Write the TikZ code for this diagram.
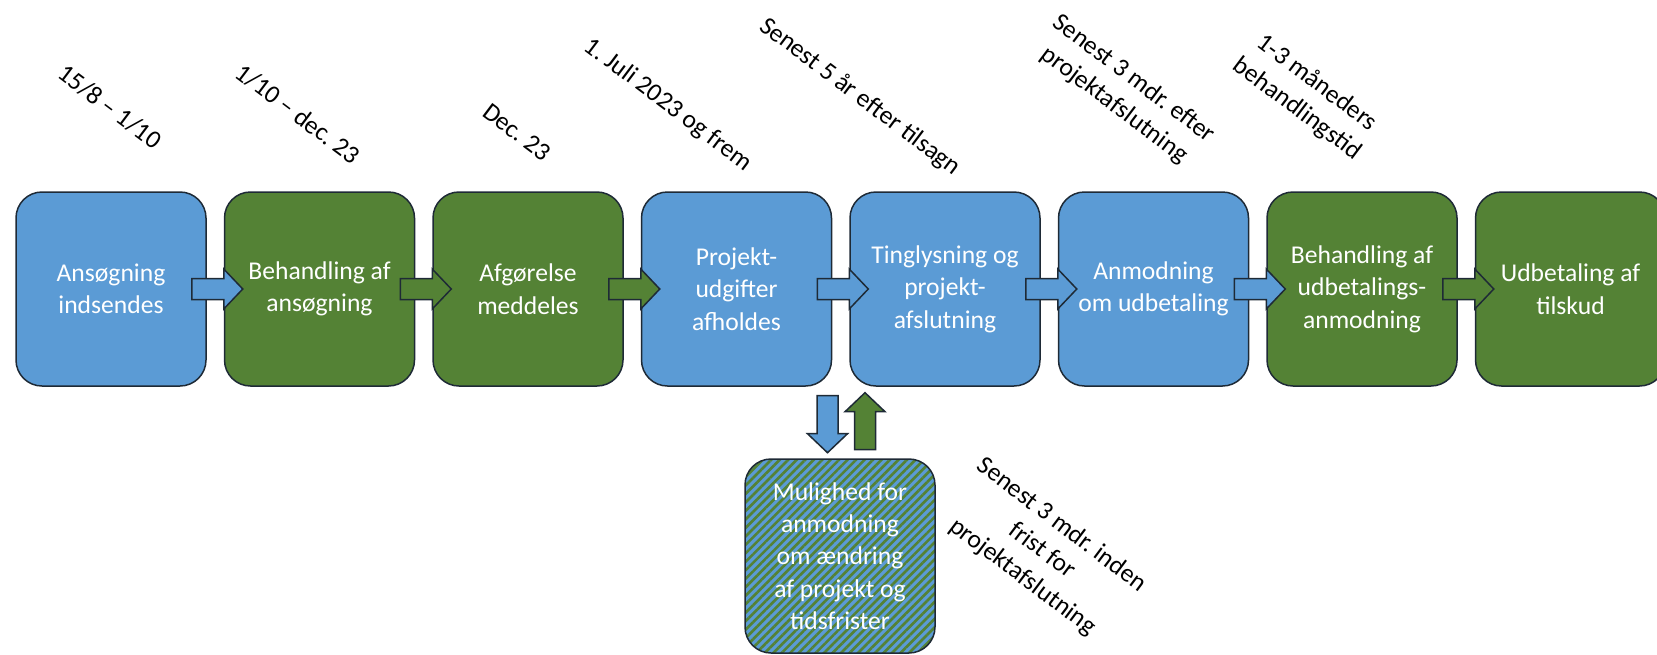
\documentclass[tikz,border=0pt]{standalone}
\usepackage{fontspec}
\setmainfont{Carlito}
\frenchspacing
\usetikzlibrary{calc,patterns.meta}
\definecolor{cblue}{HTML}{5B9BD5}
\definecolor{cgreen}{HTML}{548235}
\definecolor{cline}{HTML}{1E2A36}
\tikzset{
  box/.style={draw=cline, line width=.75pt, rounded corners=13pt, minimum width=95pt, minimum height=97pt, inner sep=0pt, align=center, text=white, font=\fontsize{12.8}{16.2}\selectfont},
  bluebox/.style={box, fill=cblue},
  greenbox/.style={box, fill=cgreen},
  hatchbox/.style={box, preaction={fill=cblue}, pattern={Lines[angle=45,distance=3pt,line width=1.3pt]}, pattern color=cgreen},
  datelabel/.style={rotate=-37, align=center, font=\fontsize{12.8}{16.2}\selectfont},
  bluearrow/.style={draw=cline, line width=.75pt, fill=cblue},
  greenarrow/.style={draw=cline, line width=.75pt, fill=cgreen}
}
% block arrow from #2 to #3, tip at #3
\newcommand{\blockarrow}[3]{%
  \filldraw[#1] ($(#2)!5.25pt!90:(#3)$)
    -- ($($(#3)!9.5pt!(#2)$)!5.25pt!90:(#3)$)
    -- ($($(#3)!9.5pt!(#2)$)!10pt!90:(#3)$)
    -- (#3)
    -- ($($(#3)!9.5pt!(#2)$)!10pt!-90:(#3)$)
    -- ($($(#3)!9.5pt!(#2)$)!5.25pt!-90:(#3)$)
    -- ($(#2)!5.25pt!-90:(#3)$) -- cycle;}
\begin{document}
\begin{tikzpicture}[x=.5pt, y=-.5pt]
\useasboundingbox (0,0) rectangle (1657,654);
\node[bluebox](A) at (111, 289) {Ansøgning\\indsendes};
\node[greenbox](B) at (319.5, 289) {Behandling af\\ansøgning};
\node[greenbox](C) at (528, 289) {Afgørelse\\meddeles};
\node[bluebox](D) at (736.5, 289) {Projekt-\\udgifter\\afholdes};
\node[bluebox](E) at (945, 289) {Tinglysning og\\projekt-\\afslutning};
\node[bluebox](F) at (1153.5, 289) {Anmodning\\om udbetaling};
\node[greenbox](G) at (1362, 289) {Behandling af\\udbetalings-\\anmodning};
\node[greenbox](H) at (1570.5, 289) {Udbetaling af\\tilskud};
\node[hatchbox](M) at (840, 556) {Mulighed for\\anmodning\\om ændring\\af projekt og\\tidsfrister};
\blockarrow{bluearrow}{[xshift=-7.5pt]A.east}{[xshift=9.5pt]B.west}
\blockarrow{greenarrow}{[xshift=-7.5pt]B.east}{[xshift=9.5pt]C.west}
\blockarrow{greenarrow}{[xshift=-7.5pt]C.east}{[xshift=9.5pt]D.west}
\blockarrow{bluearrow}{[xshift=-7.5pt]D.east}{[xshift=9.5pt]E.west}
\blockarrow{bluearrow}{[xshift=-7.5pt]E.east}{[xshift=9.5pt]F.west}
\blockarrow{bluearrow}{[xshift=-7.5pt]F.east}{[xshift=9.5pt]G.west}
\blockarrow{greenarrow}{[xshift=-7.5pt]G.east}{[xshift=9.5pt]H.west}
\blockarrow{bluearrow}{[xshift=-6.25pt,yshift=31pt]M.north}{[xshift=-6.25pt,yshift=2.5pt]M.north}
\blockarrow{greenarrow}{[xshift=12.5pt,yshift=4pt]M.north}{[xshift=12.5pt,yshift=32.5pt]M.north}
\node[datelabel](tA) at (110, 107) {15/8 – 1/10};
\node[datelabel](tB) at (298, 114) {1/10 – dec. 23};
\node[datelabel](tC) at (517, 132) {Dec. 23};
\node[datelabel](tD) at (668, 105) {1. Juli 2023 og frem};
\node[datelabel](tE) at (860, 97) {Senest 5 år efter tilsagn};
\node[datelabel](tF) at (1124, 92) {Senest 3 mdr. efter\\projektafslutning};
\node[datelabel](tG) at (1307, 96) {1-3 måneders\\behandlingstid};
\node[datelabel](tM) at (1042, 551) {Senest 3 mdr. inden\\frist for\\projektafslutning};
\end{tikzpicture}
\end{document}
